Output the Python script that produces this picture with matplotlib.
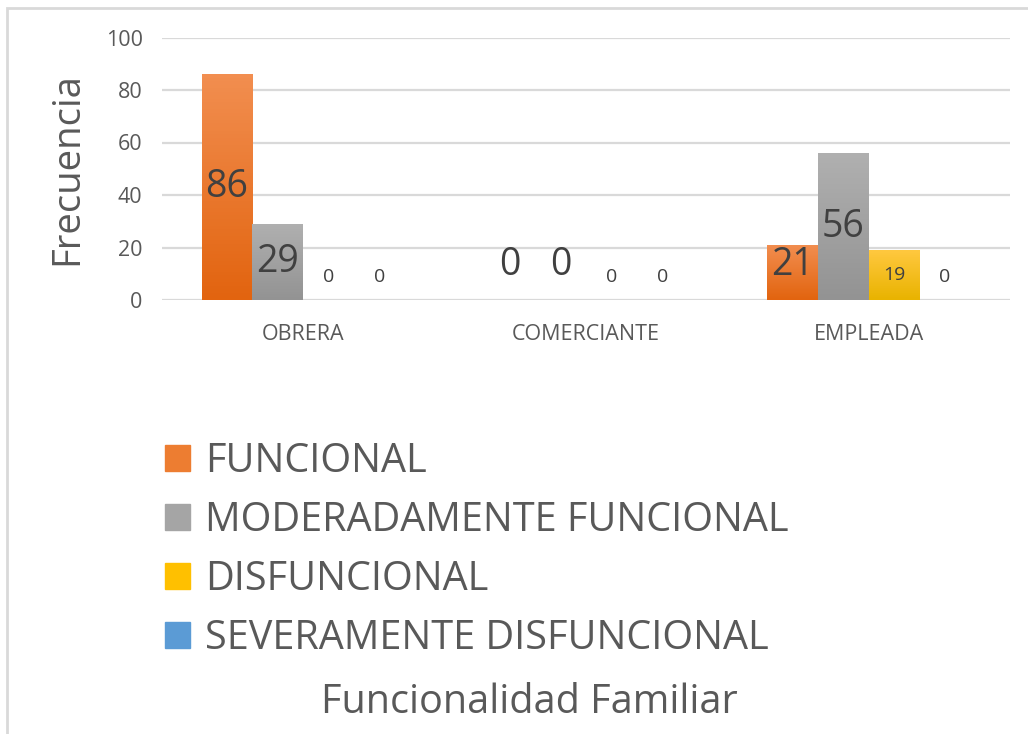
import numpy as np
import matplotlib
matplotlib.use("Agg")
import matplotlib.pyplot as plt
from matplotlib.patches import Rectangle
from matplotlib.colors import LinearSegmentedColormap

categories = ["OBRERA", "COMERCIANTE", "EMPLEADA"]
series_names = ["FUNCIONAL", "MODERADAMENTE FUNCIONAL", "DISFUNCIONAL", "SEVERAMENTE DISFUNCIONAL"]
funcional = [86, 0, 21]
moderado = [29, 0, 56]
disfuncional = [0, 0, 19]
severo = [0, 0, 0]
yticks = [0, 20, 40, 60, 80, 100]
y_label = "Frecuencia"
title = "Funcionalidad Familiar"

series = [funcional, moderado, disfuncional, severo]
colors_top = ["#F28E50", "#B0B0B0", "#FFC83F", "#6AA6DC"]
colors_bot = ["#E2640F", "#939393", "#E9B300", "#4A8AC8"]
colors_mid = ["#ED7D31", "#A5A5A5", "#FFC000", "#5B9BD5"]
label_sizes = [27, 27, 14, 14]
label_min = [13.5, 13.5, 8.8, 8.8]

plt.rcParams['font.family'] = ['Open Sans', 'DejaVu Sans']
TXT = "#595959"

fig = plt.figure(figsize=(10.28, 7.34), dpi=100)
W, H = 1028, 734
ax = fig.add_axes([162 / W, 1 - 300 / H, (1010 - 162) / W, (300 - 37.5) / H])

x = np.arange(len(categories))
bw = 0.18
offsets = [-1.5, -0.5, 0.5, 1.5]
for i, vals in enumerate(series):
    bars = ax.bar(x + offsets[i] * bw, vals, bw, color=colors_mid[i], zorder=3,
                  label=series_names[i], linewidth=0)
    cmap = LinearSegmentedColormap.from_list("g%d" % i, [colors_bot[i], colors_top[i]])
    for b in bars:
        if b.get_height() <= 0:
            continue
        x0, y0 = b.get_x(), b.get_y()
        im = ax.imshow(np.linspace(0, 1, 64).reshape(-1, 1), cmap=cmap, origin="lower",
                       extent=[x0, x0 + b.get_width(), y0, y0 + b.get_height()],
                       aspect="auto", zorder=4)
        im.set_clip_path(b)
    for b, v in zip(bars, vals):
        cy = max(v / 2.0, label_min[i])
        ax.text(b.get_x() + b.get_width() / 2, cy, str(v), ha="center", va="center",
                fontsize=label_sizes[i], color="#404040", zorder=6)

ax.set_xlim(-0.5, len(categories) - 0.5)
ax.set_ylim(0, 100)
ax.set_yticks(yticks)
ax.set_xticks(x)
ax.set_xticklabels(categories)
ax.yaxis.grid(True, color="#D9D9D9", linewidth=1.6, zorder=0)
ax.set_axisbelow(True)
for s in ax.spines.values():
    s.set_visible(False)
ax.tick_params(axis="both", length=0, colors=TXT, labelsize=15.5)
ax.tick_params(axis="y", pad=14)
ax.tick_params(axis="x", pad=17)
ax.set_ylabel(y_label, fontsize=27.5, color=TXT)
ax.yaxis.set_label_coords(-76 / 848, 0.5)

fs = 28.5
fpx = fs * 100 / 72
leg = fig.legend(handles=[Rectangle((0, 0), 1, 1, color=c) for c in colors_mid],
                 labels=series_names, loc="upper left",
                 bbox_to_anchor=(165 / W, 1 - 441 / H), frameon=False,
                 fontsize=fs, handlelength=25 / fpx, handleheight=25 / fpx,
                 handletextpad=15 / fpx, labelspacing=0.47, borderaxespad=0, borderpad=0)
for t in leg.get_texts():
    t.set_color(TXT)

fig.text(529 / W, 1 - 703 / H, title, ha="center", va="center", fontsize=28.5, color=TXT)

fig.add_artist(Rectangle((7 / W, -0.1), 1.2, 1 - 8 / H + 0.1, transform=fig.transFigure,
                         fill=False, edgecolor="#D9D9D9", linewidth=2))

fig.savefig("out.png", dpi=100)
